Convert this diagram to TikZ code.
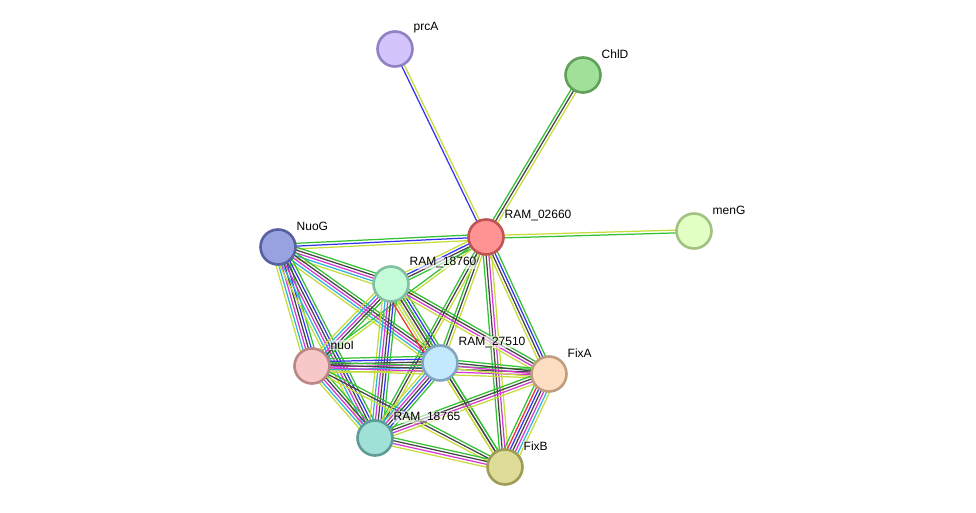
\documentclass[tikz,border=0pt]{standalone}
\usepackage{fontspec}
\setmainfont{Liberation Sans}
\usetikzlibrary{calc,backgrounds}
\definecolor{cy}{HTML}{C6DC3A}
\definecolor{cg}{HTML}{33C033}
\definecolor{ck}{HTML}{444444}
\definecolor{cb}{HTML}{3434F0}
\definecolor{cm}{HTML}{D638D6}
\definecolor{cc}{HTML}{30B4D8}
\definecolor{cr}{HTML}{F03030}
\tikzset{
  prot/.style={circle, minimum size=35pt, inner sep=0pt, line width=2.6pt},
  lbl/.style={anchor=west, inner sep=0.5pt, font=\fontsize{12}{14}\selectfont, fill=white, fill opacity=0.6, text opacity=1},
  eline/.style={line width=1.25pt},
}
\newcommand\stredge[3]{%
  \foreach \cc [count=\ii] in {#3}{\xdef\ncol{\ii}}%
  \foreach \cc [count=\ii] in {#3}{%
    \pgfmathsetmacro\off{(\ii-(\ncol+1)/2)*2.8}%
    \draw[eline, color=c\cc] ($(#1)!\off pt!90:(#2)$) -- ($(#2)!\off pt!-90:(#1)$);
  }%
}
\begin{document}
\begin{tikzpicture}[x=1pt,y=-1pt]
\useasboundingbox (0,0) rectangle (976,513);
\node[prot, fill={rgb,255:red,212;green,196;blue,252}, draw={rgb,255:red,144;green,128;blue,196}] (prcA) at (395,49) {};
\node[prot, fill={rgb,255:red,160;green,224;blue,152}, draw={rgb,255:red,96;green,160;blue,88}] (ChlD) at (583,75) {};
\node[prot, fill={rgb,255:red,255;green,146;blue,146}, draw={rgb,255:red,192;green,84;blue,84}] (R02660) at (486,237) {};
\node[prot, fill={rgb,255:red,226;green,255;blue,196}, draw={rgb,255:red,162;green,194;blue,130}] (menG) at (694,231) {};
\node[prot, fill={rgb,255:red,152;green,162;blue,224}, draw={rgb,255:red,88;green,96;blue,160}] (NuoG) at (278,247) {};
\node[prot, fill={rgb,255:red,196;green,252;blue,218}, draw={rgb,255:red,130;green,192;blue,160}] (R18760) at (391,284) {};
\node[prot, fill={rgb,255:red,248;green,200;blue,200}, draw={rgb,255:red,186;green,134;blue,134}] (nuoI) at (312,366) {};
\node[prot, fill={rgb,255:red,196;green,232;blue,252}, draw={rgb,255:red,128;green,166;blue,192}] (R27510) at (440,363) {};
\node[prot, fill={rgb,255:red,254;green,222;blue,194}, draw={rgb,255:red,190;green,158;blue,126}] (FixA) at (549,374) {};
\node[prot, fill={rgb,255:red,160;green,224;blue,214}, draw={rgb,255:red,94;green,156;blue,150}] (R18765) at (375,438) {};
\node[prot, fill={rgb,255:red,222;green,220;blue,150}, draw={rgb,255:red,158;green,156;blue,86}] (FixB) at (505,467) {};
\begin{pgfonlayer}{background}
\stredge{prcA}{R02660}{b,y}
\stredge{ChlD}{R02660}{g,k,y}
\stredge{menG}{R02660}{y,g}
\stredge{NuoG}{R02660}{y,b,g}
\stredge{R18760}{R02660}{g,k,b,y}
\stredge{nuoI}{R02660}{y,g}
\stredge{R27510}{R02660}{y,k,g}
\stredge{R18765}{R02660}{y,k,g}
\stredge{FixA}{R02660}{g,b,k,y}
\stredge{FixB}{R02660}{y,m,k,g}
\stredge{NuoG}{R18760}{y,c,m,k,g}
\stredge{NuoG}{nuoI}{y,c,m,k,b,g}
\stredge{NuoG}{R27510}{y,c,m,k,g}
\stredge{NuoG}{R18765}{y,c,m,k,b,g}
\stredge{R18760}{nuoI}{y,c,m,k,g}
\stredge{R18760}{R27510}{r,y,c,m,k,b,g}
\stredge{R18760}{R18765}{y,c,m,k,b,g}
\stredge{R18760}{FixA}{y,m,k,g}
\stredge{R18760}{FixB}{y,k,g}
\stredge{nuoI}{R27510}{y,c,m,k,b,g}
\stredge{nuoI}{R18765}{y,c,m,k,g}
\stredge{nuoI}{FixA}{y,m,k,g}
\stredge{nuoI}{FixB}{y,k,g}
\stredge{R27510}{R18765}{y,c,m,k,b,g}
\stredge{R27510}{FixA}{y,m,k,g}
\stredge{R27510}{FixB}{y,k,g}
\stredge{R18765}{FixA}{y,m,k,g}
\stredge{R18765}{FixB}{y,m,k,g}
\stredge{FixA}{FixB}{g,r,b,k,m,c,y}
\end{pgfonlayer}
\node[lbl] (lprcA) at ($(prcA)+(18,-21)$) {prcA};
\node[lbl] (lChlD) at ($(ChlD)+(18,-21)$) {ChlD};
\node[lbl] (lR02660) at ($(R02660)+(18,-21)$) {RAM\_02660};
\node[lbl] (lmenG) at ($(menG)+(18,-21)$) {menG};
\node[lbl] (lNuoG) at ($(NuoG)+(18,-21)$) {NuoG};
\node[lbl] (lR18760) at ($(R18760)+(18,-21)$) {RAM\_18760};
\node[lbl] (lnuoI) at ($(nuoI)+(18,-21)$) {nuoI};
\node[lbl] (lR27510) at ($(R27510)+(18,-21)$) {RAM\_27510};
\node[lbl] (lFixA) at ($(FixA)+(18,-21)$) {FixA};
\node[lbl] (lR18765) at ($(R18765)+(18,-21)$) {RAM\_18765};
\node[lbl] (lFixB) at ($(FixB)+(18,-21)$) {FixB};
\end{tikzpicture}
\end{document}
